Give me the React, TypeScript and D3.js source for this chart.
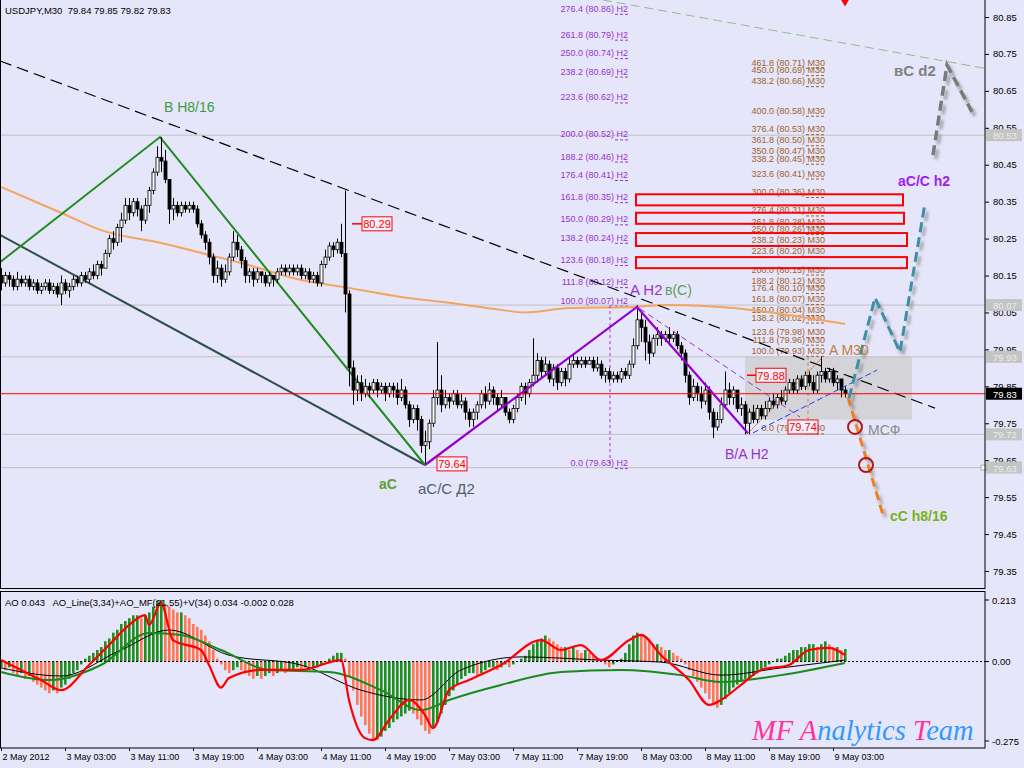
import { useEffect, useRef } from "react";
import * as d3 from "d3";

const W = 1024;
const H = 768;

// USDJPY M30 candles, bar 0 = 2 May 19:00. Open of each bar = close of previous bar.
const firstOpen = 80.15;
const closes = [
  80.13, 80.15, 80.14, 80.12, 80.14, 80.13, 80.14, 80.12, 80.13, 80.11,
  80.12, 80.13, 80.11, 80.12, 80.10, 80.13, 80.11, 80.12, 80.14, 80.13,
  80.15, 80.14, 80.16, 80.15, 80.18, 80.17, 80.21, 80.25, 80.24, 80.28,
  80.30, 80.34, 80.32, 80.35, 80.33, 80.30, 80.34, 80.38, 80.43, 80.47,
  80.46, 80.41, 80.33, 80.34, 80.32, 80.34, 80.33, 80.34, 80.33, 80.29,
  80.26, 80.24, 80.20, 80.15, 80.17, 80.14, 80.16, 80.20, 80.24, 80.22,
  80.19, 80.15, 80.16, 80.14, 80.16, 80.15, 80.13, 80.15, 80.14, 80.16,
  80.17, 80.16, 80.17, 80.16, 80.17, 80.15, 80.16, 80.14, 80.15, 80.13,
  80.18, 80.20, 80.23, 80.22, 80.24, 80.21, 80.10, 79.90, 79.84, 79.86,
  79.83, 79.85, 79.84, 79.86, 79.84, 79.85, 79.83, 79.85, 79.84, 79.82,
  79.84, 79.80, 79.76, 79.79, 79.76, 79.69, 79.70, 79.75, 79.82, 79.84,
  79.80, 79.82, 79.81, 79.83, 79.80, 79.81, 79.78, 79.76, 79.78, 79.80,
  79.83, 79.81, 79.84, 79.82, 79.80, 79.82, 79.78, 79.76, 79.79, 79.82,
  79.85, 79.83, 79.86, 79.88, 79.92, 79.89, 79.91, 79.87, 79.90, 79.86,
  79.89, 79.87, 79.91, 79.92, 79.91, 79.92, 79.91, 79.92, 79.90, 79.91,
  79.88, 79.89, 79.87, 79.88, 79.87, 79.89, 79.88, 79.91, 79.96, 80.03,
  80.01, 79.97, 79.94, 79.98, 79.99, 79.98, 79.99, 79.98, 79.99, 79.96,
  79.94, 79.88, 79.82, 79.85, 79.83, 79.81, 79.84, 79.78, 79.74, 79.76,
  79.80, 79.84, 79.82, 79.84, 79.79, 79.80, 79.75, 79.78, 79.76, 79.79,
  79.77, 79.79, 79.81, 79.80, 79.82, 79.81, 79.84, 79.86, 79.84, 79.87,
  79.85, 79.88, 79.86, 79.84, 79.88, 79.89, 79.87, 79.89, 79.86, 79.87,
  79.84, 79.83,
];
const highs = [
  80.17, 80.16, 80.16, 80.15, 80.16, 80.15, 80.15, 80.15, 80.14, 80.14,
  80.13, 80.14, 80.14, 80.13, 80.13, 80.15, 80.14, 80.13, 80.15, 80.15,
  80.16, 80.16, 80.17, 80.18, 80.19, 80.19, 80.22, 80.26, 80.27, 80.29,
  80.32, 80.36, 80.36, 80.36, 80.36, 80.34, 80.36, 80.39, 80.44, 80.50,
  80.525, 80.49, 80.39, 80.36, 80.35, 80.35, 80.35, 80.35, 80.35, 80.34,
  80.30, 80.27, 80.25, 80.21, 80.19, 80.18, 80.18, 80.21, 80.27, 80.26,
  80.23, 80.20, 80.17, 80.17, 80.17, 80.16, 80.16, 80.16, 80.15, 80.17,
  80.18, 80.18, 80.18, 80.18, 80.18, 80.18, 80.17, 80.17, 80.16, 80.16,
  80.19, 80.22, 80.24, 80.24, 80.25, 80.29, 80.38, 80.11, 79.92, 79.88,
  79.88, 79.87, 79.86, 79.87, 79.87, 79.86, 79.86, 79.86, 79.86, 79.86,
  79.87, 79.85, 79.81, 79.80, 79.80, 79.77, 79.73, 79.76, 79.84, 79.97,
  79.88, 79.84, 79.83, 79.84, 79.84, 79.83, 79.82, 79.79, 79.79, 79.81,
  79.84, 79.85, 79.86, 79.85, 79.83, 79.84, 79.82, 79.79, 79.80, 79.83,
  79.86, 79.86, 79.87, 79.98, 79.94, 79.93, 79.93, 79.92, 79.91, 79.91,
  79.90, 79.90, 79.93, 79.94, 79.93, 79.93, 79.93, 79.93, 79.93, 79.93,
  79.92, 79.90, 79.90, 79.89, 79.89, 79.90, 79.90, 79.92, 79.98, 80.07,
  80.05, 80.03, 79.99, 79.99, 80.01, 80.00, 80.00, 80.01, 80.00, 80.00,
  79.97, 79.95, 79.89, 79.87, 79.86, 79.85, 79.86, 79.85, 79.79, 79.78,
  79.82, 79.89, 79.86, 79.85, 79.84, 79.82, 79.81, 79.79, 79.80, 79.80,
  79.80, 79.81, 79.82, 79.83, 79.83, 79.84, 79.85, 79.87, 79.87, 79.88,
  79.88, 79.89, 79.89, 79.88, 79.89, 79.93, 79.90, 79.90, 79.90, 79.88,
  79.87, 79.85,
];
const lows = [
  80.11, 80.12, 80.12, 80.11, 80.11, 80.12, 80.12, 80.11, 80.11, 80.10,
  80.10, 80.11, 80.10, 80.10, 80.09, 80.07, 80.10, 80.09, 80.11, 80.12,
  80.12, 80.13, 80.13, 80.14, 80.14, 80.15, 80.17, 80.20, 80.22, 80.23,
  80.24, 80.29, 80.30, 80.31, 80.31, 80.27, 80.29, 80.32, 80.37, 80.42,
  80.43, 80.40, 80.29, 80.30, 80.31, 80.31, 80.32, 80.32, 80.32, 80.28,
  80.25, 80.22, 80.18, 80.13, 80.13, 80.12, 80.13, 80.15, 80.19, 80.20,
  80.17, 80.13, 80.13, 80.12, 80.13, 80.13, 80.12, 80.12, 80.12, 80.13,
  80.15, 80.15, 80.15, 80.15, 80.15, 80.14, 80.14, 80.13, 80.13, 80.12,
  80.12, 80.17, 80.19, 80.20, 80.21, 80.20, 80.05, 79.85, 79.80, 79.81,
  79.81, 79.82, 79.82, 79.83, 79.82, 79.83, 79.81, 79.82, 79.82, 79.80,
  79.81, 79.79, 79.74, 79.75, 79.73, 79.67, 79.64, 79.68, 79.74, 79.80,
  79.78, 79.79, 79.79, 79.80, 79.79, 79.79, 79.76, 79.74, 79.74, 79.76,
  79.79, 79.79, 79.80, 79.80, 79.78, 79.79, 79.77, 79.75, 79.75, 79.78,
  79.81, 79.80, 79.82, 79.85, 79.86, 79.87, 79.88, 79.86, 79.85, 79.84,
  79.85, 79.85, 79.86, 79.90, 79.90, 79.90, 79.90, 79.91, 79.89, 79.89,
  79.87, 79.86, 79.86, 79.86, 79.86, 79.86, 79.87, 79.87, 79.90, 79.95,
  79.97, 79.92, 79.91, 79.93, 79.96, 79.96, 79.97, 79.96, 79.97, 79.95,
  79.92, 79.86, 79.80, 79.81, 79.81, 79.79, 79.80, 79.76, 79.71, 79.73,
  79.75, 79.79, 79.80, 79.80, 79.78, 79.77, 79.72, 79.72, 79.75, 79.75,
  79.76, 79.76, 79.78, 79.79, 79.79, 79.80, 79.80, 79.83, 79.83, 79.83,
  79.84, 79.84, 79.85, 79.83, 79.83, 79.86, 79.86, 79.86, 79.85, 79.84,
  79.82, 79.82,
];

// moving average (orange), read at sample bars: [bar, price]
const maLine: [number, number][] = [
  [0, 80.39], [15, 80.32], [25, 80.273], [40, 80.238], [52, 80.206], [62, 80.178],
  [75, 80.138], [85, 80.12], [100, 80.092], [112, 80.076], [125, 80.057], [131, 80.05],
  [142, 80.062], [158, 80.065], [167, 80.07], [183, 80.062], [200, 80.038], [211, 80.019],
];

const timeLabels = [
  "2 May 2012", "3 May 03:00", "3 May 11:00", "3 May 19:00", "4 May 03:00", "4 May 11:00",
  "4 May 19:00", "7 May 03:00", "7 May 11:00", "7 May 19:00", "8 May 03:00", "8 May 11:00",
  "8 May 19:00", "9 May 03:00",
];
const priceTicks = [80.85, 80.75, 80.65, 80.55, 80.45, 80.35, 80.25, 80.15, 80.05, 79.95, 79.85, 79.75, 79.65, 79.55, 79.45, 79.35];
const levelLines = [80.53, 80.07, 79.93, 79.72, 79.63];
const bid = 79.83;

// fibonacci expansion labels
const fibH2: [string, number][] = [
  ["276.4", 80.86], ["261.8", 80.79], ["250.0", 80.74], ["238.2", 80.69], ["223.6", 80.62],
  ["200.0", 80.52], ["188.2", 80.46], ["176.4", 80.41], ["161.8", 80.35], ["150.0", 80.29],
  ["138.2", 80.24], ["123.6", 80.18], ["111.8", 80.12], ["100.0", 80.07], ["0.0", 79.63],
];
const fibM30: [string, number][] = [
  ["461.8", 80.71], ["450.0", 80.69], ["438.2", 80.66], ["400.0", 80.58], ["376.4", 80.53],
  ["361.8", 80.50], ["350.0", 80.47], ["338.2", 80.45], ["323.6", 80.41], ["300.0", 80.36],
  ["276.4", 80.31], ["261.8", 80.28], ["250.0", 80.26], ["238.2", 80.23], ["223.6", 80.20],
  ["200.0", 80.15], ["188.2", 80.12], ["176.4", 80.10], ["161.8", 80.07], ["150.0", 80.04],
  ["138.2", 80.02], ["123.6", 79.98], ["111.8", 79.96], ["100.0", 79.93], ["0.0", 79.72],
];
const fibH2Bar = 139.5;
const fibM30Bar = 187.5;

// target zones: [top, bottom, endBar]
const zoneStart = 158.75;
const zones: [number, number, number][] = [
  [80.37, 80.34, 225.5], [80.32, 80.29, 225.75], [80.265, 80.23, 226.5], [80.2, 80.17, 226.5],
];

// wave / trend lines as [bar, price]
const trendDashed: [number, number][] = [[-0.25, 80.731], [233.5, 79.791]];
const trendDark: [number, number][] = [[-0.25, 80.26], [106, 79.637]];
const greenWave: [number, number][] = [[-0.25, 80.186], [39.75, 80.525], [106, 79.637]];
const purpleWave: [number, number][] = [[106, 79.637], [159, 80.065], [186.75, 79.723]];
const purpleThin: [number, number][] = [[159.75, 80.06], [199.75, 79.767]];
const m30Leg: [number, number][] = [[186.75, 79.723], [205.25, 79.927]];
const blueChannel: [number, number][] = [[188, 79.724], [219, 79.894]];
const orangeProj: [number, number][] = [[211.75, 79.82], [220.75, 79.493]];
const tealProj: [number, number][] = [[212, 79.818], [218.5, 80.09], [224.75, 79.943], [231, 80.346]];
const greyProj: [number, number][] = [[233, 80.476], [236.5, 80.72], [242.75, 80.593]];
const greenTop: [number, number][] = [[150.5, 80.896], [246, 80.711]];
const redDashed: [number, number, number][] = [[119, 246, 79.64], [204.75, 231, 79.737]];
const circles: [number, number][] = [[213.5, 79.74], [216.25, 79.637]];
const greyBox = { from: 186, to: 227.75, top: 79.93, bottom: 79.76 };
const hVertical: [number, number, number] = [152.25, 80.07, 79.63];
const mVertical: [number, number, number] = [201.75, 79.93, 79.72];

// red price tags: [text, lineStartBar | null, boxStartBar]
const priceTags: [string, number | null, number][] = [
  ["80.29", 87.75, 90.25], ["79.88", 186.5, 188.75], ["79.74", null, 196.75], ["79.64", null, 109],
];

// text labels: [text, bar, price, color, size, bold]
const labels: [string, number, number, string, number, boolean][] = [
  ["B H8/16", 40.75, 80.593, "#3c9c3c", 14, false],
  ["aC", 94.5, 79.572, "#5aa02c", 14, true],
  ["aC/C Д2", 104.25, 79.558, "#4f5f6f", 15, false],
  ["A H2", 157.25, 80.097, "#9932cc", 15, false],
  ["в(C)", 166, 80.097, "#55a055", 14, false],
  ["B/A H2", 181, 79.653, "#9932cc", 14, false],
  ["A M30", 207, 79.935, "#c08040", 14, false],
  ["МСФ", 216.75, 79.718, "#8c8c8c", 14, false],
  ["cC h8/16", 222.25, 79.485, "#76b21c", 14, true],
  ["aC/C h2", 224.25, 80.392, "#a020f0", 14, true],
  ["вC d2", 223.25, 80.69, "#808080", 15, true],
];

// AO histogram, one value per bar
const aoValues = [
  -0.02, -0.03, -0.02, -0.04, -0.05, -0.04, -0.06, -0.05,
  -0.07, -0.08, -0.09, -0.10, -0.11, -0.10, -0.11, -0.09, -0.08, -0.06,
  -0.04, -0.03, -0.01, 0.01, 0.02, 0.03, 0.04,
  0.05, 0.07, 0.08, 0.10, 0.11, 0.13, 0.14, 0.15,
  0.16, 0.16, 0.15, 0.16, 0.17, 0.19, 0.21,
  0.213, 0.20,
  0.19, 0.18, 0.17, 0.17, 0.16, 0.15, 0.13, 0.12, 0.11,
  0.09, 0.07, 0.04, 0.01, -0.01, -0.03, -0.04,
  -0.03, -0.02, -0.03, -0.04, -0.05,
  -0.06, -0.05, -0.06, -0.05, -0.04, -0.05, -0.04, -0.03, -0.04, -0.03,
  -0.03, -0.02, -0.03, -0.02, -0.03, -0.02, -0.02, -0.01, 0.0, 0.01, 0.02, 0.03,
  0.03, 0.01, -0.05,
  -0.10, -0.15, -0.19, -0.22, -0.25, -0.27, -0.27, -0.26,
  -0.24, -0.23, -0.21, -0.20, -0.19, -0.18, -0.17, -0.18,
  -0.20, -0.22, -0.24, -0.25, -0.23, -0.21,
  -0.18, -0.15, -0.12, -0.10, -0.08, -0.06, -0.05, -0.04,
  -0.04, -0.05, -0.04, -0.03, -0.02, -0.02, -0.03, -0.02, -0.01, -0.02, -0.01, 0.0, 0.01, 0.02,
  0.04, 0.06, 0.07, 0.08, 0.09, 0.08, 0.07, 0.06, 0.05,
  0.05, 0.04, 0.05, 0.04, 0.03, 0.04, 0.03, 0.02, 0.01, 0.0, -0.01, -0.02, -0.01,
  0.0, 0.01, 0.03, 0.06, 0.09, 0.10,
  0.09, 0.08, 0.07, 0.06, 0.06, 0.05, 0.04, 0.04, 0.03, 0.02, 0.01,
  -0.01, -0.03, -0.05, -0.07, -0.09, -0.11, -0.13, -0.15, -0.16, -0.15,
  -0.13, -0.11, -0.09, -0.08, -0.07, -0.06, -0.06, -0.05, -0.04,
  -0.03, -0.02, -0.01, 0.0, 0.01, 0.01, 0.02, 0.03, 0.04, 0.04,
  0.05, 0.05, 0.06, 0.06, 0.05, 0.06, 0.07, 0.06, 0.05, 0.05, 0.04, 0.043,
];
const aoRed: [number, number][] = [
  [0, 0.005], [10, -0.064], [15, -0.099], [22, -0.012], [27, 0.057], [32, 0.126], [36, 0.161],
  [37, 0.126], [40, 0.202], [43, 0.074], [50, 0.04], [52, -0.012], [55, -0.09], [57, -0.057],
  [65, -0.029], [75, -0.029], [85, 0.005], [87, -0.133], [91, -0.265], [93, -0.272], [97, -0.202],
  [102, -0.133], [106, -0.185], [108, -0.23], [112, -0.099], [117, -0.064], [125, -0.012],
  [135, 0.074], [140, 0.04], [145, 0.057], [150, 0.005], [157, 0.074], [160, 0.092], [165, 0.022],
  [172, -0.064], [177, -0.15], [180, -0.133], [185, -0.081], [190, -0.029], [197, -0.012],
  [202, 0.04], [207, 0.047], [211, 0.022],
];
const aoGreen: [number, number][] = [
  [0, -0.036], [12, -0.064], [25, -0.012], [37, 0.099], [45, 0.092], [55, 0.04], [67, -0.029],
  [82, -0.036], [95, -0.099], [105, -0.168], [112, -0.133], [125, -0.081], [140, -0.036],
  [155, -0.029], [170, -0.047], [180, -0.071], [195, -0.047], [211, -0.005],
];
const aoBlack: [number, number][] = [
  [0, -0.022], [15, -0.05], [30, 0.04], [42, 0.109], [57, 0.022], [75, -0.012], [90, -0.099],
  [105, -0.133], [115, -0.029], [130, 0.016], [150, 0.005], [165, -0.002], [180, -0.047],
  [195, -0.022], [211, 0.005],
];
const aoTicks: [number, string][] = [[0.213, "0.213"], [0, "0.00"], [-0.275, "-0.275"]];

const FONT = "'Liberation Sans', Arial, sans-serif";
const BG = "#e6e6fa";

export default function App() {
  const svgRef = useRef<SVGSVGElement>(null);

  useEffect(() => {
    if (!svgRef.current) return;
    const svg = d3.select(svgRef.current);
    svg.selectAll("*").remove();

    const x = d3.scaleLinear().domain([0, 246]).range([1, 985]);
    const y = d3.scaleLinear().domain([79.35, 80.85]).range([571, 17]);
    const yAo = d3.scaleLinear().domain([-0.275, 0.213]).range([741, 600]);

    const defs = svg.append("defs");
    defs.append("clipPath").attr("id", "clip-main")
      .append("rect").attr("x", 0).attr("y", 0).attr("width", 985).attr("height", 589);
    defs.append("clipPath").attr("id", "clip-ao")
      .append("rect").attr("x", 0).attr("y", 592).attr("width", 985).attr("height", 156);
    const f = defs.append("filter").attr("id", "shadow")
      .attr("x", "-30%").attr("y", "-30%").attr("width", "160%").attr("height", "160%");
    f.append("feDropShadow").attr("dx", 3).attr("dy", 4).attr("stdDeviation", 1.6)
      .attr("flood-color", "#666").attr("flood-opacity", 0.55);

    svg.append("rect").attr("width", W).attr("height", H).attr("fill", BG);

    const main = svg.append("g").attr("clip-path", "url(#clip-main)");
    const line = d3.line<[number, number]>().x((d) => x(d[0])).y((d) => y(d[1]));
    const path = (g: any, pts: [number, number][], stroke: string, width: number, dash?: string, shadow?: boolean) => {
      const p = g.append("path").attr("d", line(pts)).attr("fill", "none")
        .attr("stroke", stroke).attr("stroke-width", width);
      if (dash) p.attr("stroke-dasharray", dash);
      if (shadow) p.attr("filter", "url(#shadow)");
      return p;
    };

    // shaded box of the current M30 wave
    main.append("rect")
      .attr("x", x(greyBox.from)).attr("y", y(greyBox.top))
      .attr("width", x(greyBox.to) - x(greyBox.from)).attr("height", y(greyBox.bottom) - y(greyBox.top))
      .attr("fill", "#d3d3d8");

    // horizontal levels
    levelLines.forEach((p) => {
      main.append("line").attr("x1", 0).attr("x2", 985).attr("y1", y(p)).attr("y2", y(p))
        .attr("stroke", "#c0c0c0").attr("stroke-width", 1);
    });

    // fib labels (right aligned, suffix underlined by a dotted level stub)
    fibH2.forEach(([pct, p]) => {
      const x1 = x(fibH2Bar) + 69;
      main.append("text").attr("x", x1).attr("y", y(p) - 1.5).attr("text-anchor", "end")
        .attr("font-family", FONT).attr("font-size", 9).attr("fill", "#9932cc")
        .text(`${pct} (${p.toFixed(2)}) H2`);
      main.append("line").attr("x1", x1 - 13).attr("x2", x1).attr("y1", y(p) + 1).attr("y2", y(p) + 1)
        .attr("stroke", "#9932cc").attr("stroke-dasharray", "3,2");
    });
    fibM30.forEach(([pct, p]) => {
      const x1 = x(fibM30Bar) + 74;
      main.append("text").attr("x", x1).attr("y", y(p) - 3).attr("text-anchor", "end")
        .attr("font-family", FONT).attr("font-size", 9).attr("fill", "#a0622a")
        .text(`${pct} (${p.toFixed(2)}) M30`);
      main.append("line").attr("x1", x1 - 19).attr("x2", x1).attr("y1", y(p) - 0.5).attr("y2", y(p) - 0.5)
        .attr("stroke", "#a0622a").attr("stroke-dasharray", "3,2");
    });

    // target zones
    zones.forEach(([top, bottom, end]) => {
      main.append("rect").attr("x", x(zoneStart)).attr("y", y(top))
        .attr("width", x(end) - x(zoneStart)).attr("height", y(bottom) - y(top))
        .attr("fill", "none").attr("stroke", "#ff0000").attr("stroke-width", 2);
    });

    // moving average
    main.append("path")
      .attr("d", d3.line<[number, number]>().x((d) => x(d[0])).y((d) => y(d[1])).curve(d3.curveMonotoneX)(maLine))
      .attr("fill", "none").attr("stroke", "#f4a460").attr("stroke-width", 2);

    // trend and wave lines
    path(main, greenTop, "#8fbc8f", 1, "9,5");
    path(main, trendDashed, "#000", 1.2, "12,6");
    path(main, trendDark, "#2f4f4f", 2);
    path(main, greenWave, "#228b22", 2);
    main.append("line").attr("x1", x(hVertical[0])).attr("x2", x(hVertical[0]))
      .attr("y1", y(hVertical[1])).attr("y2", y(hVertical[2]))
      .attr("stroke", "#9932cc").attr("stroke-dasharray", "3,3");
    main.append("line").attr("x1", x(mVertical[0])).attr("x2", x(mVertical[0]))
      .attr("y1", y(mVertical[1])).attr("y2", y(mVertical[2]))
      .attr("stroke", "#c08040").attr("stroke-dasharray", "3,3");

    // candles
    const cg = main.append("g");
    closes.forEach((c, i) => {
      const o = i === 0 ? firstOpen : closes[i - 1];
      const h = Math.max(highs[i], o, c);
      const l = Math.min(lows[i], o, c);
      const cx = Math.round(x(i)) + 0.5;
      cg.append("line").attr("x1", cx).attr("x2", cx).attr("y1", y(h)).attr("y2", y(l))
        .attr("stroke", "#000").attr("stroke-width", 1);
      const top = y(Math.max(o, c));
      const bh = Math.max(y(Math.min(o, c)) - top, 1);
      cg.append("rect").attr("x", cx - 1.5).attr("y", top).attr("width", 3).attr("height", bh)
        .attr("fill", c > o ? "#fff" : "#000").attr("stroke", "#000").attr("stroke-width", 0.8);
    });

    path(main, purpleThin, "#9932cc", 1, "6,4");
    path(main, purpleWave, "#9400d3", 2.2);
    path(main, m30Leg, "#b06a2a", 1, "2,1");
    path(main, blueChannel, "#1e3cff", 1, "6,3");

    // bid line
    main.append("line").attr("x1", 0).attr("x2", 985).attr("y1", y(bid)).attr("y2", y(bid))
      .attr("stroke", "#ff0000").attr("stroke-width", 1);

    // projected paths
    redDashed.forEach(([a, b, p]) => {
      main.append("line").attr("x1", x(a)).attr("x2", x(b)).attr("y1", y(p)).attr("y2", y(p))
        .attr("stroke", "#b22234").attr("stroke-width", 2.5).attr("stroke-dasharray", "8,4")
        .attr("filter", "url(#shadow)");
    });
    path(main, orangeProj, "#f07f1a", 3, "9,5", true);
    path(main, tealProj, "#3a8fa6", 3, "10,5", true);
    path(main, greyProj, "#7a7a7a", 3.5, "10,5", true);
    circles.forEach(([b, p]) => {
      main.append("circle").attr("cx", x(b)).attr("cy", y(p)).attr("r", 7)
        .attr("fill", "none").attr("stroke", "#b01818").attr("stroke-width", 2);
    });

    // price tags
    priceTags.forEach(([t, lineStart, boxStart]) => {
      const p = +t;
      if (lineStart !== null) {
        main.append("line").attr("x1", x(lineStart)).attr("x2", x(boxStart)).attr("y1", y(p)).attr("y2", y(p))
          .attr("stroke", "#ff0000").attr("stroke-width", 1.5);
      }
      main.append("rect").attr("x", x(boxStart)).attr("y", y(p) - 7).attr("width", 30).attr("height", 14)
        .attr("fill", "#f0f0fc").attr("stroke", "#ff0000").attr("stroke-width", 1);
      main.append("text").attr("x", x(boxStart) + 15).attr("y", y(p) + 4.5).attr("text-anchor", "middle")
        .attr("font-family", FONT).attr("font-size", 11).attr("fill", "#ff0000").text(t);
    });

    // wave labels
    labels.forEach(([t, b, p, color, size, bold]) => {
      main.append("text").attr("x", x(b)).attr("y", y(p))
        .attr("font-family", FONT).attr("font-size", size).attr("font-weight", bold ? "bold" : "normal")
        .attr("fill", color).text(t);
    });

    // red marker at top
    main.append("path").attr("d", d3.symbol().type(d3.symbolDiamond).size(50)())
      .attr("transform", `translate(${x(211)},0)`).attr("fill", "#ff0000");

    // price axis
    const ax = svg.append("g").attr("transform", "translate(985,0)")
      .call(d3.axisRight(y).tickValues(priceTicks).tickSize(4).tickPadding(4).tickFormat(d3.format(".2f")));
    ax.select(".domain").remove();
    ax.selectAll("text").attr("font-family", FONT).attr("font-size", 9.5).attr("fill", "#000");
    ax.selectAll("line").attr("stroke", "#000");

    levelLines.forEach((p) => {
      svg.append("rect").attr("x", 986).attr("y", y(p) - 6).attr("width", 36).attr("height", 12).attr("fill", "#c4c4c4");
      svg.append("text").attr("x", 993).attr("y", y(p) + 4).attr("font-family", FONT).attr("font-size", 9.5)
        .attr("fill", "#ebebeb").text(p.toFixed(2));
    });
    svg.append("rect").attr("x", 981).attr("y", y(79.63) - 2.5).attr("width", 5).attr("height", 5)
      .attr("fill", "#fff").attr("stroke", "#aaa");
    svg.append("rect").attr("x", 986).attr("y", y(bid) - 6).attr("width", 36).attr("height", 12).attr("fill", "#000");
    svg.append("text").attr("x", 993).attr("y", y(bid) + 4).attr("font-family", FONT).attr("font-size", 9.5)
      .attr("fill", "#fff").text(bid.toFixed(2));

    // AO subwindow
    const ao = svg.append("g").attr("clip-path", "url(#clip-ao)");
    aoValues.forEach((v, i) => {
      const up = i === 0 || v >= aoValues[i - 1];
      ao.append("rect").attr("x", x(i) - 1).attr("width", 2.6)
        .attr("y", Math.min(yAo(0), yAo(v))).attr("height", Math.abs(yAo(v) - yAo(0)))
        .attr("fill", up ? "#1f8f1f" : "#ff7856");
    });
    ao.append("line").attr("x1", 0).attr("x2", 985).attr("y1", yAo(0)).attr("y2", yAo(0))
      .attr("stroke", "#000").attr("stroke-dasharray", "2,2");
    const aoLine = d3.line<[number, number]>().x((d) => x(d[0])).y((d) => yAo(d[1])).curve(d3.curveMonotoneX);
    ao.append("path").attr("d", aoLine(aoBlack)).attr("fill", "none").attr("stroke", "#000").attr("stroke-width", 1);
    ao.append("path").attr("d", aoLine(aoGreen)).attr("fill", "none").attr("stroke", "#1a8a1a").attr("stroke-width", 2);
    ao.append("path").attr("d", aoLine(aoRed)).attr("fill", "none").attr("stroke", "#ff0000").attr("stroke-width", 2.2);

    aoTicks.forEach(([v, t]) => {
      svg.append("line").attr("x1", 985).attr("x2", 989).attr("y1", yAo(v)).attr("y2", yAo(v)).attr("stroke", "#000");
      svg.append("text").attr("x", 992).attr("y", yAo(v) + 3.5).attr("font-family", FONT).attr("font-size", 9.5)
        .attr("fill", "#000").text(t);
    });

    // frames
    svg.append("rect").attr("x", 0.5).attr("y", -1).attr("width", 984.5).attr("height", 589.5)
      .attr("fill", "none").attr("stroke", "#000");
    svg.append("rect").attr("x", 0.5).attr("y", 591.5).attr("width", 984.5).attr("height", 156.5)
      .attr("fill", "none").attr("stroke", "#000");

    // time axis
    const tx = svg.append("g").attr("transform", "translate(0,748)")
      .call(d3.axisBottom(x).tickValues(timeLabels.map((_, k) => k * 16)).tickSize(3).tickPadding(3)
        .tickFormat((_, k) => timeLabels[k]));
    tx.select(".domain").remove();
    tx.selectAll("text").attr("text-anchor", "start").attr("dx", 1)
      .attr("font-family", FONT).attr("font-size", 9).attr("fill", "#000");
    tx.selectAll("line").attr("stroke", "#000");

    // headers (keep the double spaces)
    svg.append("text").attr("x", 5).attr("y", 14).attr("font-family", FONT).attr("font-size", 9.5)
      .style("white-space", "pre").attr("fill", "#000").text("USDJPY,M30  79.84 79.85 79.82 79.83");
    svg.append("text").attr("x", 5).attr("y", 606).attr("font-family", FONT).attr("font-size", 9.5)
      .style("white-space", "pre").attr("fill", "#000")
      .text("AO 0.043   AO_Line(3,34)+AO_MF(21,55)+V(34) 0.034 -0.002 0.028");

    // watermark
    const wm = svg.append("text").attr("x", 752).attr("y", 740)
      .attr("font-family", "'Liberation Serif', serif").attr("font-style", "italic").attr("font-size", 28.5);
    [["M", "#ff3399"], ["F ", "#ff3399"], ["A", "#ff3399"], ["nalytics ", "#3399ff"], ["T", "#ff3399"], ["eam", "#3399ff"]]
      .forEach(([t, c]) => wm.append("tspan").attr("fill", c).text(t));
  }, []);

  return (
    <svg
      ref={svgRef}
      width={W}
      height={H}
      style={{ position: "absolute", left: 0, top: 0, display: "block" }}
    />
  );
}
